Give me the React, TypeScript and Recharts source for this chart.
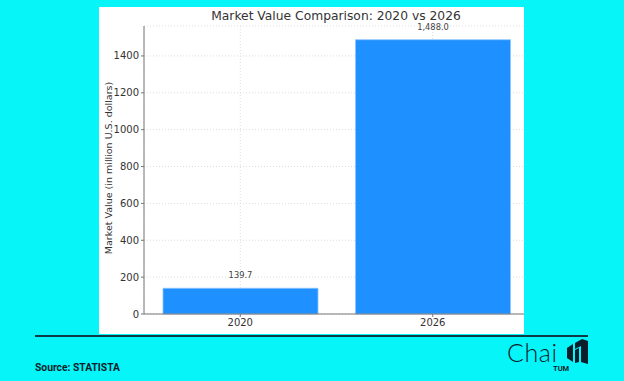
import { BarChart, Bar, XAxis, YAxis, CartesianGrid, LabelList } from 'recharts';

const years = ['2020', '2026'];
const marketValues = [139.7, 1488.0];
const yTicks = [0, 200, 400, 600, 800, 1000, 1200, 1400];

const data = years.map((year, i) => ({ year, value: marketValues[i] }));

const fmt = (v: number) =>
  v.toLocaleString('en-US', { minimumFractionDigits: 1, maximumFractionDigits: 1 });

function YLabel(props: any) {
  const { viewBox } = props;
  const x = viewBox.x + 9;
  const y = viewBox.y + viewBox.height / 2 - 2;
  return (
    <text
      x={x}
      y={y}
      transform={`rotate(-90 ${x} ${y})`}
      textAnchor="middle"
      dominantBaseline="central"
      fontSize={9.5}
      fill="#333"
      fontFamily="DejaVu Sans"
    >
      Market Value (in million U.S. dollars)
    </text>
  );
}

export default function App() {
  return (
    <div
      style={{
        position: 'absolute',
        left: 0,
        top: 0,
        width: 624,
        height: 381,
        background: '#06F5F9',
        overflow: 'hidden',
        fontFamily: 'DejaVu Sans',
      }}
    >
      {/* white chart panel */}
      <div
        style={{
          position: 'absolute',
          left: 99,
          top: 7,
          width: 425,
          height: 327,
          background: '#fff',
          overflow: 'hidden',
        }}
      >
        <div
          style={{
            position: 'absolute',
            top: 2,
            left: 0,
            width: 474,
            textAlign: 'center',
            fontSize: 12.3,
            lineHeight: '15px',
            color: '#333',
          }}
        >
          Market Value Comparison: 2020 vs 2026
        </div>
        <BarChart
          width={440}
          height={327}
          data={data}
          margin={{ top: 19, right: 10, left: 0, bottom: 0 }}
          barSize={155}
        >
          <XAxis
            dataKey="year"
            height={20}
            tick={{ fontSize: 10, fill: '#333' }}
            tickSize={3}
            stroke="#777"
            tickLine={{ stroke: '#777' }}
          />
          <YAxis
            width={45}
            domain={[0, 1562.4]}
            ticks={yTicks}
            tick={{ fontSize: 10, fill: '#333' }}
            tickSize={3}
            stroke="#777"
            interval={0}
            label={<YLabel />}
          />
          <Bar dataKey="value" fill="#1E90FF" stroke="#8cc4ff" strokeWidth={0.8} isAnimationActive={false}>
            <LabelList
              dataKey="value"
              position="top"
              offset={10}
              formatter={(v: any) => fmt(Number(v))}
              style={{ fontSize: 8.3, fill: '#444' }}
            />
          </Bar>
          <CartesianGrid stroke="#d4d4d4" strokeDasharray="1 2" strokeWidth={0.8} />
        </BarChart>
      </div>

      {/* footer rule */}
      <div
        style={{
          position: 'absolute',
          left: 35,
          top: 335,
          width: 553,
          height: 1.5,
          background: '#0d3a44',
        }}
      />
      <div
        style={{
          position: 'absolute',
          left: 35,
          top: 361,
          fontSize: 10.3,
          fontWeight: 'bold',
          color: '#0b1e2b',
          fontFamily: 'Roboto',
        }}
      >
        Source: STATISTA
      </div>

      {/* logo */}
      <div
        style={{
          position: 'absolute',
          left: 507,
          top: 337,
          fontSize: 25,
          fontWeight: 300,
          color: '#0b1e2b',
          fontFamily: 'Lato',
          letterSpacing: 0.6,
        }}
      >
        Chai
      </div>
      <div
        style={{
          position: 'absolute',
          left: 553,
          top: 364,
          fontSize: 7.5,
          fontWeight: 'bold',
          color: '#0b1e2b',
          fontFamily: 'Roboto',
        }}
      >
        TUM
      </div>
      <svg style={{ position: 'absolute', left: 564, top: 338 }} width={26} height={28}>
        <path d="M3 10 L9 6 L9 24 L3 20 Z" fill="#0b1e2b" />
        <path d="M11 5 L18 1 L24 3 L24 26 L17 24 L17 8 L11 11 Z" fill="#0b1e2b" />
        <path d="M11 12 L15 10 L15 24 L11 25 Z" fill="#0b1e2b" />
      </svg>
    </div>
  );
}
